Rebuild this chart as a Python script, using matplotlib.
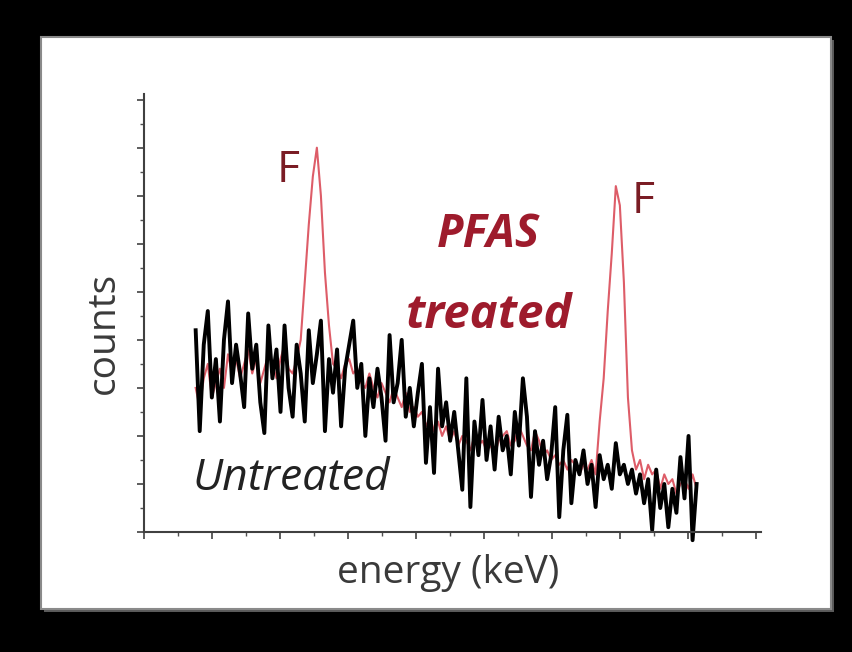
import matplotlib
matplotlib.use("Agg")
import matplotlib.pyplot as plt
from matplotlib.patches import Rectangle
from matplotlib.ticker import MultipleLocator
import numpy as np

plt.rcParams['font.family'] = ['Open Sans', 'DejaVu Sans']

# energy channels (arbitrary keV units, evenly spaced)
e_start = 0.76
e_step = 0.0594

untreated = [4.2, 2.1, 3.9, 4.6, 2.8, 3.6, 2.3, 4.0, 4.8, 3.1,
             3.9, 3.3, 2.6, 4.55, 3.4, 3.9, 2.7, 2.06, 4.3, 3.2,
             3.8, 2.5, 4.3, 3.0, 2.4, 3.9, 3.3, 2.3, 4.2, 3.1,
             3.7, 4.4, 2.1, 3.6, 2.9, 3.8, 2.2, 3.4, 3.9, 4.4,
             3.0, 3.5, 2.0, 3.2, 2.6, 3.4, 2.8, 1.9, 4.1, 2.7,
             3.1, 4.0, 2.4, 3.0, 2.2, 2.9, 3.5, 1.44, 2.6, 1.23,
             3.4, 2.2, 2.7, 1.9, 2.5, 1.7, 0.88, 3.2, 0.52, 2.3,
             1.6, 2.75, 1.5, 2.2, 1.3, 2.4, 1.7, 2.0, 1.2, 2.5,
             1.8, 3.2, 2.4, 0.73, 2.1, 1.4, 1.9, 1.1, 1.6, 2.6,
             0.31, 1.7, 2.44, 0.6, 1.5, 1.2, 1.7, 1.0, 1.4, 0.52,
             1.6, 1.1, 1.4, 0.9, 1.85, 1.2, 1.4, 1.0, 1.3, 0.8,
             1.2, 0.6, 1.1, 0.04, 1.3, 0.5, 1.0, 0.1, 0.9, 0.4,
             1.56, 0.7, 2.0, -0.17, 1.0]

pfas_treated = [3.0, 2.6, 3.2, 3.5, 2.8, 3.1, 3.4, 3.0, 3.7, 3.3,
                3.6, 3.2, 3.5, 3.8, 3.3, 3.6, 3.1, 3.4, 3.7, 3.5,
                3.2, 3.6, 3.9, 3.4, 3.3,
                3.6, 4.0, 5.2, 6.4, 7.4, 8.0, 7.0, 5.4, 4.3, 3.5,
                3.4, 3.2, 3.5, 3.6, 3.3, 3.4, 3.1, 3.0, 3.3, 3.0,
                2.8, 3.1, 2.9, 2.7, 3.0, 2.8, 2.6, 2.9, 2.5, 2.6,
                2.4, 2.5, 2.2, 2.4, 2.1,
                2.3, 2.0, 2.2, 1.9, 2.1, 1.8, 2.0, 1.9, 1.7, 2.0,
                1.8, 1.9, 1.7, 1.8, 1.6, 1.9, 2.0, 2.1, 1.8, 1.9,
                2.2, 2.0, 1.8, 1.7, 2.1, 1.9, 1.6, 1.7, 1.5, 1.6,
                1.4, 1.5, 1.3, 1.5, 1.4, 1.2, 1.4, 1.3, 1.5, 1.2,
                2.3, 3.2, 4.6, 5.8, 7.2, 6.8, 5.2, 2.8, 1.7,
                1.3, 1.5, 1.1, 1.4, 1.2, 1.3, 0.9, 1.2, 1.0, 1.1,
                0.8, 1.0, 1.1, 0.9, 1.2, 0.9]

energy = e_start + e_step * np.arange(len(untreated))

fig = plt.figure(figsize=(8.52, 6.52), dpi=100, facecolor="black")

# white panel with grey frame and shadow
fig.patches.append(Rectangle((0.052, 0.061), 0.927, 0.877, transform=fig.transFigure,
                             facecolor="#5a5a5a", edgecolor="none", zorder=-10))
fig.patches.append(Rectangle((0.048, 0.066), 0.927, 0.877, transform=fig.transFigure,
                             facecolor="white", edgecolor="#8a8a8a", lw=1.5, zorder=-9))

ax = fig.add_axes([0.169, 0.184, 0.724, 0.672])
ax.set_facecolor("none")

ax.plot(energy, pfas_treated, color="#d8404e", lw=1.5, alpha=0.85, clip_on=False)
ax.plot(energy, untreated, color="black", lw=2.8, clip_on=False)

ax.set_xlim(0, 9.07)
ax.set_ylim(0, 9.12)
ax.xaxis.set_major_locator(MultipleLocator(1))
ax.xaxis.set_minor_locator(MultipleLocator(0.5))
ax.yaxis.set_major_locator(MultipleLocator(1))
ax.yaxis.set_minor_locator(MultipleLocator(0.5))
ax.tick_params(which="major", direction="out", length=5, width=1.3, color="#505050",
               labelbottom=False, labelleft=False)
ax.tick_params(which="minor", direction="out", length=3, width=1.0, color="#505050")
for s in ["top", "right"]:
    ax.spines[s].set_visible(False)
for s in ["left", "bottom"]:
    ax.spines[s].set_color("#404040")
    ax.spines[s].set_linewidth(1.5)

fig.text(0.526, 0.106, "energy (keV)", fontsize=28, color="#3a3a3a",
         ha="center", va="baseline")
fig.text(0.122, 0.489, "counts", fontsize=28, color="#3a3a3a",
         ha="center", va="center", rotation=90)

ax.text(2.12, 7.29, "F", fontsize=32, color="#7a1c24", ha="center", va="baseline")
ax.text(7.34, 6.65, "F", fontsize=32, color="#7a1c24", ha="center", va="baseline")
ax.text(5.06, 5.94, "PFAS", fontsize=33, color="#9e1b2c", ha="center", va="baseline",
        fontweight="bold", fontstyle="italic")
ax.text(5.07, 4.25, "treated", fontsize=34, color="#9e1b2c", ha="center", va="baseline",
        fontweight="bold", fontstyle="italic")
ax.text(2.17, 0.875, "Untreated", fontsize=32, color="#222222", ha="center", va="baseline",
        fontstyle="italic")

fig.savefig("out.png", dpi=100, facecolor="black")
